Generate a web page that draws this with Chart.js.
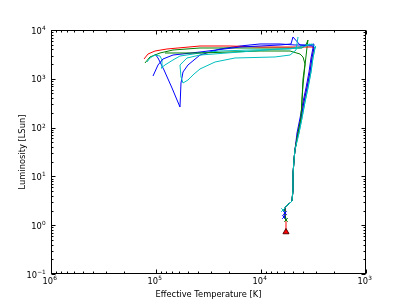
<!DOCTYPE html>
<html>
<head>
<meta charset="utf-8">
<script src="https://cdn.jsdelivr.net/npm/chart.js@4.4.0/dist/chart.umd.min.js"></script>
<style>
  html, body { margin: 0; padding: 0; background: #fff; }
</style>
</head>
<body>
<canvas id="hr" width="407" height="305"></canvas>
<script>
// tick labels (powers of ten)
const xTickExps = [3, 4, 5, 6];
const yTickExps = [-1, 0, 1, 2, 3, 4];

// evolutionary tracks: effective temperature [K] and luminosity [LSun]
const blueLoopTemp = [5910,5910,5650,5290,5070,4960,4960,4850,4750,4540,4250,3980,3730,3490,3340,3200,3130,3410,4750,6590,10220,15850,24600,38100,49600,55300,57800,59100,70400,83900,95700,102200];
const blueLoopLum  = [1.78,2.25,2.59,2.85,3.13,5.26,10.7,21.7,34.7,77.5,157,335,648,1380,2670,4280,5170,4930,4930,5170,5170,4700,4080,3070,1920,1380,820,264,648,1515,2670,3220];

const greenTemp = [5780,5910,5910,5650,5290,5070,4960,4960,4850,4750,4440,4160,4070,3980,3810,3650,3570,3730,4070,5290,10220,19700,38100,68900,91600,114100,127300];
const greenLum  = [1.28,1.70,2.25,2.59,2.85,3.13,5.26,10.7,21.7,34.7,77.5,157,368,746,1920,4280,6240,4930,4280,4280,4280,4280,4280,3890,3380,2800,2110];

const redTemp = [5780,5780,5910,5910,5650,5290,5070,4960,4960,4850,4750,4440,4160,3900,3650,3410,3270,3130,3270,3570,5290,10220,19700,38100,78600,102200,119200,130100];
const redLum  = [0.726,1.16,1.70,2.25,2.59,2.85,3.13,5.26,10.7,21.7,34.7,77.5,157,335,648,1380,2670,4280,4480,4480,4480,4480,4700,4700,4080,3710,3220,2545];

const cyanKinkTemp = [6170,5910,5650,5290,5070,4960,4960,4850,4750,4350,4070,3810,3570,3340,3200,3060,3410,4350,5290,12730,24600,38100,59100,68900,82100,89600,87700,91600,102200,114100,121800];
const cyanKinkLum  = [2.05,2.25,2.59,2.85,3.13,5.26,10.7,21.7,34.7,77.5,157,335,648,1380,2670,4280,5170,4480,4080,3890,3710,3380,2930,2430,1920,1665,2430,2930,3070,2670,2210];

const blueTailTemp = [6040,5910,5650,5290,5070,4960,4960,4850,4750,4440,4160,3900,3650,3410,3270,3130,3200,4250,4960,5180,6590,15850,38100,68900,85800,95700,106800];
const blueTailLum  = [1.47,2.25,2.59,2.85,3.13,5.26,10.7,21.7,34.7,77.5,157,335,648,1380,2670,4280,4700,4930,7190,5170,4930,4480,3540,3070,2545,1920,1140];

const greenSideTemp = [5780,5910,5910,5650,5290,5070,4960,4960,4850,4750,4440,4160,4070,3980,3810,3980,4250,5290,10220,19700,38100,82100];
const greenSideLum  = [1.28,1.70,2.25,2.59,2.85,3.13,5.26,10.7,21.7,34.7,77.5,157,368,990,2010,2800,3220,3710,3710,3540,3380,3380];

const cyanLoopTemp = [6170,5910,5650,5290,5070,4960,4960,4850,4750,4350,4070,3810,3570,3340,3200,3060,2990,3270,4250,6590,15850,38100,50700,59100,57800,55300,49600,43450,38100,27400,17700,7360,5290,4640,4440];
const cyanLoopLum  = [2.05,2.25,2.59,2.85,3.13,5.26,10.7,21.7,34.7,77.5,157,335,648,1380,2670,4280,4480,5170,4280,4080,3540,3070,2670,1920,1090,820,945,1254,1590,2210,2670,2800,3070,3890,7190];

// start markers
const markerTemp = [6170, 5910, 6040, 5780, 5780];
const markerLum  = [2.05, 1.78, 1.47, 1.28, 0.726];
const markerColors = ['#00bfbf', '#0000ff', '#0000ff', '#008000', '#ff0000'];
const markerStyles = ['crossRot', 'crossRot', 'crossRot', 'crossRot', 'triangle'];

const FONT = '"DejaVu Sans"';
const SIZE = 8.3;

function pts(xs, ys) {
    return xs.map((x, i) => ({ x: x, y: ys[i] }));
}

const tracks = [
    [blueLoopTemp, blueLoopLum, '#0000ff'],
    [greenTemp, greenLum, '#008000'],
    [redTemp, redLum, '#ff0000'],
    [cyanKinkTemp, cyanKinkLum, '#00bfbf'],
    [blueTailTemp, blueTailLum, '#0000ff'],
    [greenSideTemp, greenSideLum, '#008000'],
    [cyanLoopTemp, cyanLoopLum, '#00bfbf']
];

const datasets = tracks.map((t, i) => ({
    data: pts(t[0], t[1]),
    showLine: true,
    borderColor: t[2],
    borderWidth: 1,
    pointRadius: 0,
    fill: false,
    order: tracks.length - i + 1
}));

datasets.push({
    data: pts(markerTemp, markerLum),
    showLine: false,
    pointStyle: markerStyles,
    pointRadius: [2.5, 2.5, 2.5, 2.5, 3.5],
    pointBorderColor: markerColors.map((c, i) => i === 4 ? '#5a0000' : c),
    pointBackgroundColor: markerColors,
    pointBorderWidth: 1,
    order: 0
});

// draws "10" with a raised exponent, like matplotlib's mathtext
function drawPow(ctx, e, x, baseY, align) {
    const exp = String(e).replace('-', '\u2212');
    ctx.font = SIZE + 'px ' + FONT;
    const wb = ctx.measureText('10').width;
    ctx.font = (SIZE * 0.7) + 'px ' + FONT;
    const we = ctx.measureText(exp).width;
    const start = align === 'right' ? x - wb - we : x - (wb + we) / 2;
    ctx.font = SIZE + 'px ' + FONT;
    ctx.fillText('10', start, baseY);
    ctx.font = (SIZE * 0.7) + 'px ' + FONT;
    ctx.fillText(exp, start + wb + 0.3, baseY - 3.6);
}

// frame, inward ticks on all four sides, tick labels and axis titles
const frameTicks = {
    id: 'frameTicks',
    afterDraw(chart) {
        const { ctx, chartArea: a, scales } = chart;
        const L = Math.round(a.left) + 0.5, R = Math.round(a.right) - 0.5;
        const T = Math.round(a.top) + 0.5, B = Math.round(a.bottom) - 0.5;
        ctx.save();
        ctx.strokeStyle = '#000';
        ctx.lineWidth = 1;
        for (let e = 3; e <= 6; e++) {
            for (let m = 1; m <= 9; m++) {
                const v = m * Math.pow(10, e);
                if (v > 1e6) break;
                const px = Math.round(scales.x.getPixelForValue(v)) + 0.5;
                const len = m === 1 ? 4 : 2;
                ctx.beginPath();
                ctx.moveTo(px, B); ctx.lineTo(px, B - len);
                ctx.moveTo(px, T); ctx.lineTo(px, T + len);
                ctx.stroke();
            }
        }
        for (let e = -1; e <= 4; e++) {
            for (let m = 1; m <= 9; m++) {
                const v = m * Math.pow(10, e);
                if (v > 1e4) break;
                const py = Math.round(scales.y.getPixelForValue(v)) + 0.5;
                const len = m === 1 ? 4 : 2;
                ctx.beginPath();
                ctx.moveTo(L, py); ctx.lineTo(L + len, py);
                ctx.moveTo(R, py); ctx.lineTo(R - len, py);
                ctx.stroke();
            }
        }
        ctx.strokeRect(L, T, R - L, B - T);

        ctx.fillStyle = '#000';
        ctx.textBaseline = 'alphabetic';
        ctx.textAlign = 'left';
        xTickExps.forEach(e => {
            const px = scales.x.getPixelForValue(Math.pow(10, e));
            drawPow(ctx, e, px - 1.5, a.bottom + 9.5, 'center');
        });
        yTickExps.forEach(e => {
            const py = scales.y.getPixelForValue(Math.pow(10, e));
            drawPow(ctx, e, a.left - 5.5, py + 3.5, 'right');
        });

        ctx.font = SIZE + 'px ' + FONT;
        ctx.textAlign = 'center';
        ctx.fillText('Effective Temperature [K]', (a.left + a.right) / 2, 296.5);
        ctx.translate(25, (a.top + a.bottom) / 2);
        ctx.rotate(-Math.PI / 2);
        ctx.fillText('Luminosity [LSun]', 0, 0);
        ctx.restore();
    }
};

new Chart(document.getElementById('hr'), {
    type: 'scatter',
    data: { datasets: datasets },
    plugins: [frameTicks],
    options: {
        responsive: false,
        animation: false,
        layout: { padding: { top: 30, right: 41, bottom: 0, left: 0 } },
        plugins: { legend: { display: false }, tooltip: { enabled: false } },
        scales: {
            x: {
                type: 'logarithmic',
                reverse: true,
                min: 1e3,
                max: 1e6,
                afterBuildTicks: s => { s.ticks = xTickExps.map(e => ({ value: Math.pow(10, e) })); },
                afterFit: s => { s.height = 31; },
                grid: { display: false },
                border: { display: false },
                ticks: { display: false }
            },
            y: {
                type: 'logarithmic',
                min: 0.1,
                max: 1e4,
                afterBuildTicks: s => { s.ticks = yTickExps.map(e => ({ value: Math.pow(10, e) })); },
                afterFit: s => { s.width = 51; },
                grid: { display: false },
                border: { display: false },
                ticks: { display: false }
            }
        }
    }
});
</script>
</body>
</html>
